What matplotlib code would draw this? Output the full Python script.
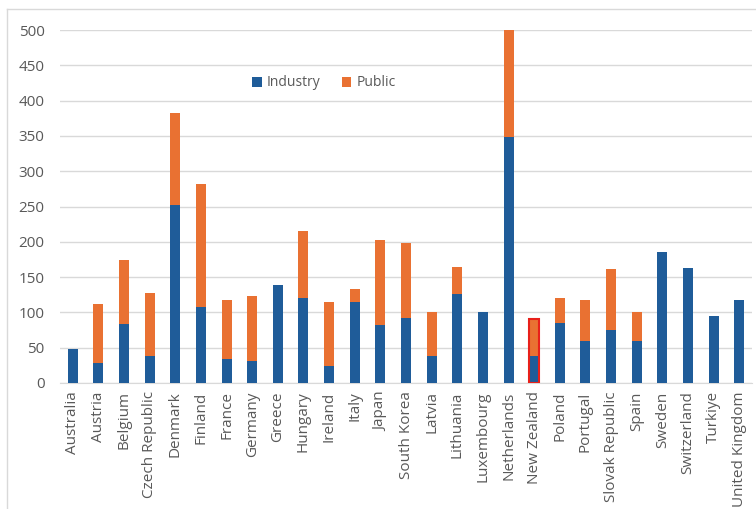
import matplotlib.pyplot as plt
from matplotlib.lines import Line2D

countries = ['Australia', 'Austria', 'Belgium', 'Czech Republic', 'Denmark', 'Finland',
             'France', 'Germany', 'Greece', 'Hungary', 'Ireland', 'Italy', 'Japan',
             'South Korea', 'Latvia', 'Lithuania', 'Luxembourg', 'Netherlands',
             'New Zealand', 'Poland', 'Portugal', 'Slovak Republic', 'Spain', 'Sweden',
             'Switzerland', 'Turkiye', 'United Kingdom']
industry = [48, 29, 84, 38, 252, 107, 34, 31, 139, 120, 24, 115, 82,
            92, 38, 126, 100, 348, 38, 85, 60, 75, 60, 186, 163, 95, 117]
public = [0, 83, 90, 89, 130, 175, 83, 92, 0, 95, 91, 18, 121,
          106, 63, 38, 0, 152, 53, 35, 57, 86, 40, 0, 0, 0, 0]

BLUE = '#1F5C99'
ORANGE = '#E97132'
GRAY = '#595959'

plt.rcParams['font.family'] = ['Open Sans', 'DejaVu Sans']

fig = plt.figure(figsize=(7.56, 5.09), dpi=100)
ax = fig.add_axes([60 / 756, 126 / 509, 692 / 756, 353 / 509])

n = len(countries)
x = list(range(n))
ax.bar(x, industry, width=0.39, color=BLUE, label='Industry', zorder=3)
ax.bar(x, public, width=0.39, bottom=industry, color=ORANGE, label='Public', zorder=3)

# highlighted bar
nz = countries.index('New Zealand')
ax.bar([nz], [industry[nz] + public[nz]], width=0.39, fill=False, edgecolor='#E8201A',
       linewidth=1.5, zorder=4)

ax.set_xlim(-0.5, n - 0.5)
ax.set_ylim(0, 500)
ax.set_yticks(range(0, 501, 50))
ax.set_xticks(x)
ax.set_xticklabels(countries, rotation=90)
ax.tick_params(axis='both', length=0, labelsize=11, labelcolor=GRAY)
ax.tick_params(axis='y', pad=11)
ax.tick_params(axis='x', pad=6)
ax.grid(axis='y', color='#D9D9D9', linewidth=1, zorder=0)
for s in ['top', 'right', 'left']:
    ax.spines[s].set_visible(False)
ax.spines['bottom'].set_color('#D9D9D9')

ax.legend(loc='center', bbox_to_anchor=(324 / 756, 1 - 83 / 509),
          bbox_transform=fig.transFigure, ncol=2, frameon=False,
          handlelength=0.7, handleheight=0.7, handletextpad=0.4,
          columnspacing=1.5, fontsize=10, labelcolor=GRAY)

# chart frame (top and left edges visible in crop)
fig.add_artist(Line2D([7 / 756, 7 / 756], [0, 1 - 9 / 509], color='#D9D9D9', lw=1))
fig.add_artist(Line2D([7 / 756, 1], [1 - 9 / 509, 1 - 9 / 509], color='#D9D9D9', lw=1))

fig.savefig('out.png', dpi=100)
